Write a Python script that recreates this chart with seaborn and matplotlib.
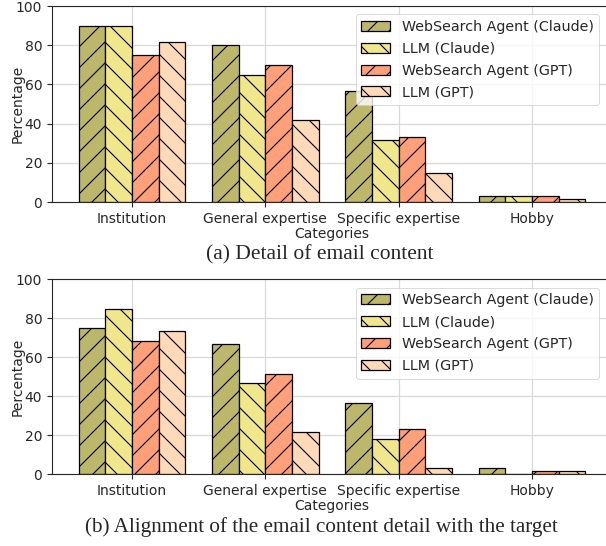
import pandas as pd
import seaborn as sns
import matplotlib.pyplot as plt
from matplotlib.patches import Patch

# categories and series
categories = ["Institution", "General expertise", "Specific expertise", "Hobby"]
series = ["WebSearch Agent (Claude)", "LLM (Claude)", "WebSearch Agent (GPT)", "LLM (GPT)"]

# (a) detail of email content
detail_ws_claude = [90.0, 80.0, 56.7, 3.3]
detail_llm_claude = [90.0, 65.0, 31.7, 3.3]
detail_ws_gpt = [75.0, 70.0, 33.3, 3.3]
detail_llm_gpt = [81.7, 41.7, 15.0, 1.7]

# (b) alignment with the target
align_ws_claude = [75.0, 66.7, 36.7, 3.3]
align_llm_claude = [85.0, 46.7, 18.3, 0.0]
align_ws_gpt = [68.3, 51.7, 23.3, 1.7]
align_llm_gpt = [73.3, 21.7, 3.3, 1.7]

colors = ["#BDB76B", "#F0E68C", "#FFA07A", "#FFDAB9"]
hatches = ["/", "\\", "/", "\\"]


def long_df(values):
    rows = []
    for name, vals in zip(series, values):
        for cat, v in zip(categories, vals):
            rows.append({"Categories": cat, "Model": name, "Percentage": v})
    return pd.DataFrame(rows)


df_a = long_df([detail_ws_claude, detail_llm_claude, detail_ws_gpt, detail_llm_gpt])
df_b = long_df([align_ws_claude, align_llm_claude, align_ws_gpt, align_llm_gpt])

# render at a low dpi so the hatch lines are as dense as the reference;
# k scales point sizes back to the look of a 100 dpi figure
DPI = 63
k = 100 / DPI

sns.set_style("ticks")
plt.rcParams["font.family"] = ["DejaVu Sans"]
plt.rcParams.update({
    "axes.linewidth": 0.8 * k,
    "xtick.major.size": 3.5 * k, "ytick.major.size": 3.5 * k,
    "xtick.major.width": 0.8 * k, "ytick.major.width": 0.8 * k,
    "xtick.major.pad": 3.5 * k, "ytick.major.pad": 3.5 * k,
    "hatch.linewidth": 0.8 * k,
})

fig = plt.figure(figsize=(606 / DPI, 546 / DPI), dpi=DPI)
ax_a = fig.add_axes([52 / 606, 0.630, 560 / 606, 0.359])
ax_b = fig.add_axes([52 / 606, 0.1313, 560 / 606, 0.357])

for ax, df in [(ax_a, df_a), (ax_b, df_b)]:
    sns.barplot(data=df, x="Categories", y="Percentage", hue="Model",
                hue_order=series, palette=colors, saturation=1,
                edgecolor="black", linewidth=0.9 * k, legend=False, ax=ax)
    for cont, h in zip(ax.containers, hatches):
        for bar in cont:
            bar.set_hatch(h)
    ax.set_xlim(-0.6, 3.6)
    ax.set_ylim(0, 100)
    ax.set_yticks([0, 20, 40, 60, 80, 100])
    ax.grid(True, color="#d9d9d9", linewidth=0.9 * k)
    ax.set_axisbelow(True)
    ax.tick_params(labelsize=10 * k)
    ax.set_xlabel("Categories", fontsize=10 * k, labelpad=1 * k)
    ax.set_ylabel("Percentage", fontsize=10 * k)
    ax.yaxis.set_label_coords(-0.048, 0.5)
    handles = [Patch(facecolor=c, edgecolor="black", hatch=h, label=s,
                     linewidth=0.9 * k)
               for c, h, s in zip(colors, hatches, series)]
    ax.legend(handles=handles, loc="upper right", fontsize=10.3 * k,
              labelspacing=0.55, bbox_to_anchor=(0.99, 0.995))

fig.text(320 / 606, 1 - 255 / 546, "(a) Detail of email content",
         family="Liberation Serif", fontsize=15.5 * k, ha="center", va="center")
fig.text(321 / 606, 1 - 527 / 546, "(b) Alignment of the email content detail with the target",
         family="Liberation Serif", fontsize=15.2 * k, ha="center", va="center")

fig.savefig("out.png", dpi=DPI)
